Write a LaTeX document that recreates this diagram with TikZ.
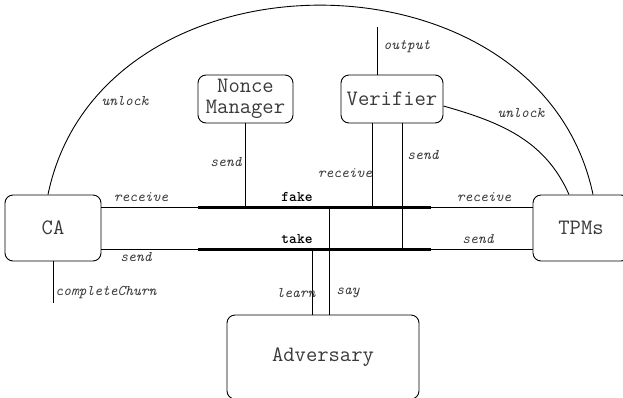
\documentclass[tikz,border=0pt]{standalone}
\usetikzlibrary{calc}
\definecolor{txt}{HTML}{3A3A3A}
\begin{document}
\begin{tikzpicture}[x=1pt,y=-1pt,
  box/.style={draw, rounded corners=8pt, line width=0.9pt, font=\ttfamily\fontsize{22}{21}\selectfont, text=txt, align=center, inner sep=0pt},
  lbl/.style={font=\ttfamily\itshape\fontsize{14.8}{15}\selectfont, text=txt, inner sep=0pt},
  busname/.style={font=\ttfamily\bfseries\fontsize{14.8}{15}\selectfont, inner sep=0pt},
  bus/.style={line width=3pt},
  wire/.style={line width=0.9pt}]
\clip (0,0) rectangle (623,397);
% boxes
\node[box, minimum width=96pt, minimum height=66pt] (CA) at (53,228) {CA};
\node[box, minimum width=96pt, minimum height=66pt] (TPM) at (581,228) {TPMs};
\node[box, minimum width=95pt, minimum height=48pt] (NM) at (245.5,99) {Nonce\\Manager};
\node[box, minimum width=102pt, minimum height=48pt] (V) at (392,99) {Verifier};
\node[box, minimum width=192pt, minimum height=84pt] (A) at (323,357) {Adversary};
% buses
\coordinate (fL) at (198,207); \coordinate (fR) at (431,207);
\coordinate (tL) at (198,249); \coordinate (tR) at (431,249);
\draw[bus] (fL) -- (fR);
\draw[bus] (tL) -- (tR);
\draw[wire] (fL -| CA.east) -- (fL);
\draw[wire] (fR) -- (fR -| TPM.west);
\draw[wire] (tL -| CA.east) -- (tL);
\draw[wire] (tR) -- (tR -| TPM.west);
% verticals
\draw[wire] (NM.south) -- (NM.south |- fL);
\coordinate (v1) at ([xshift=-20pt]V.south);
\coordinate (v2) at ([xshift=10pt]V.south);
\draw[wire] (v1) -- (v1 |- fL);
\draw[wire] (v2) -- (v2 |- tL);
\coordinate (out) at (377,27);
\draw[wire] (out) -- (out |- V.north);
\coordinate (a1) at ([xshift=-11pt]A.north);
\coordinate (a2) at ([xshift=6pt]A.north);
\draw[wire] (a1) -- (a1 |- tL);
\draw[wire] (a2) -- (a2 |- fL);
\coordinate (cc) at (53,303);
\draw[wire] (CA.south) -- (cc);
% curves
\draw[wire] ([xshift=-5pt]CA.north) .. controls (100,-58) and (540,-58) .. ([xshift=12pt]TPM.north);
\draw[wire] ([yshift=-7pt]V.east) .. controls (500,122) and (545,140) .. ([xshift=-12pt]TPM.north);
% labels
\node[busname] at (297,197) {fake};
\node[busname] at (297,239) {take};
\node[lbl] at (141,197) {receive};
\node[lbl] at (136,257) {send};
\node[lbl] at (484,197) {receive};
\node[lbl] at (478,239) {send};
\node[lbl] at (226,162) {send};
\node[lbl] at (345,173) {receive};
\node[lbl] at (423,155) {send};
\node[lbl] at (407,47) {output};
\node[lbl] at (106,293) {completeChurn};
\node[lbl] at (296,293) {learn};
\node[lbl] at (348,293) {say};
\node[lbl] at (125,101) {unlock};
\node[lbl] at (521,113) {unlock};
\end{tikzpicture}
\end{document}
